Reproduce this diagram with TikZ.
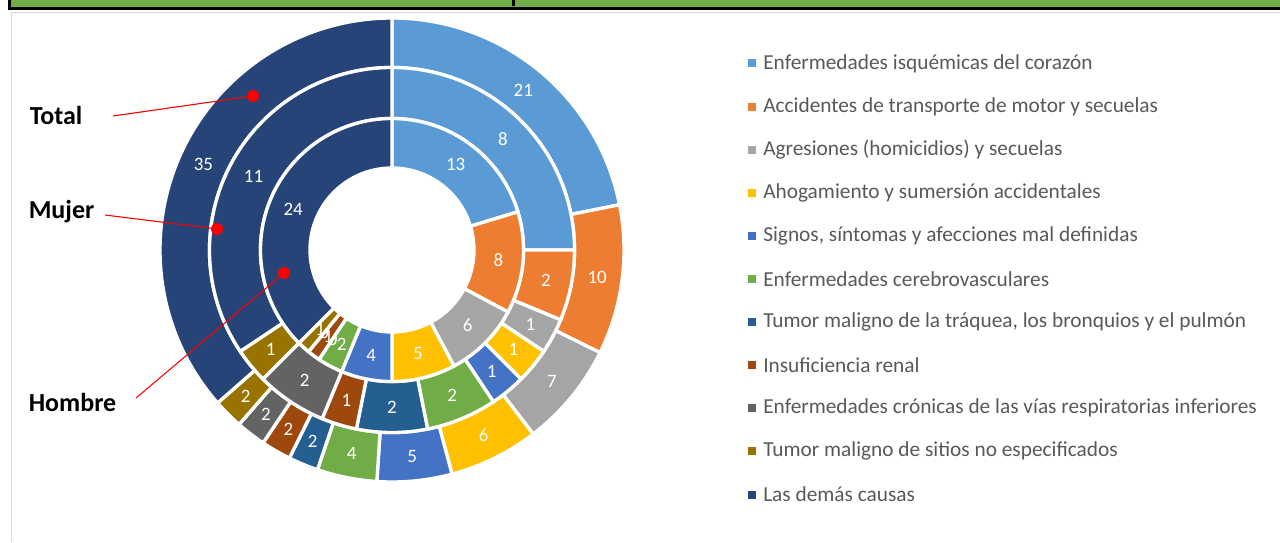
\documentclass[tikz,border=0pt]{standalone}
\usepackage{fontspec}
\setmainfont{Carlito}
\definecolor{c1}{HTML}{5B9BD5}
\definecolor{c2}{HTML}{ED7D31}
\definecolor{c3}{HTML}{A5A5A5}
\definecolor{c4}{HTML}{FFC000}
\definecolor{c5}{HTML}{4472C4}
\definecolor{c6}{HTML}{70AD47}
\definecolor{c7}{HTML}{255E91}
\definecolor{c8}{HTML}{9E480E}
\definecolor{c9}{HTML}{636363}
\definecolor{c10}{HTML}{997300}
\definecolor{c11}{HTML}{264478}
\definecolor{legtext}{HTML}{595959}
\definecolor{framegray}{HTML}{D9D9D9}
\definecolor{headgreen}{HTML}{70AD47}
\tikzset{
  slicelab/.style={text=white, font=\fontsize{14.2}{16}\selectfont, inner sep=0pt},
  legitem/.style={anchor=west, text=legtext, font=\fontsize{16}{18}\selectfont, inner sep=0pt},
  legmark/.style={minimum size=6pt, inner sep=0pt, draw=none},
  ringlab/.style={anchor=west, font=\bfseries\fontsize{19.5}{22}\selectfont, inner sep=0pt},
  reddot/.style={circle, fill=red, minimum size=9pt, inner sep=0pt},
  redline/.style={red, line width=0.8pt},
  slicebd/.style={draw=white, line width=2.5pt, line join=miter}
}
\begin{document}
\begin{tikzpicture}[x=0.75pt,y=0.75pt]
\useasboundingbox (0,0) rectangle (1280,-542);
\fill[white] (0,0) rectangle (1280,-542);
% header
\fill[black] (8,0) rectangle (1280,-10);
\fill[headgreen] (10.5,0) rectangle (1280,-7.5);
\fill[black] (512,0) rectangle (515,-6);
% frame
\draw[framegray, line width=1.2pt] (11.5,-542) -- (11.5,-12.5) -- (1280,-12.5);
\begin{scope}[shift={(392,-250)}]
% outer ring: total (96)
\foreach \a/\b/\c [count=\i] in {0/21/c1,21/31/c2,31/38/c3,38/44/c4,44/49/c5,49/53/c6,53/55/c7,55/57/c8,57/59/c9,59/61/c10,61/96/c11} {
  \pgfmathsetmacro\sa{90-\a*3.75}
  \pgfmathsetmacro\ea{90-\b*3.75}
  \pgfmathsetmacro\ma{(\sa+\ea)/2}
  \filldraw[fill=\c, slicebd] (\sa:232) arc[start angle=\sa, end angle=\ea, radius=232] -- (\ea:182.5) arc[start angle=\ea, end angle=\sa, radius=182.5] -- cycle;
  \node[slicelab] (o\i) at (\ma:207) {\the\numexpr\b-\a\relax};
}
% middle ring: mujer (32)
\foreach \a/\b/\c [count=\i] in {0/8/c1,8/10/c2,10/11/c3,11/12/c4,12/13/c5,13/15/c6,15/17/c7,17/18/c8,18/20/c9,20/21/c10,21/32/c11} {
  \pgfmathsetmacro\sa{90-\a*11.25}
  \pgfmathsetmacro\ea{90-\b*11.25}
  \pgfmathsetmacro\ma{(\sa+\ea)/2}
  \filldraw[fill=\c, slicebd] (\sa:182.5) arc[start angle=\sa, end angle=\ea, radius=182.5] -- (\ea:131.5) arc[start angle=\ea, end angle=\sa, radius=131.5] -- cycle;
  \node[slicelab] (m\i) at (\ma:157) {\the\numexpr\b-\a\relax};
}
% inner ring: hombre (64)
\foreach \a/\b/\c [count=\i] in {0/13/c1,13/21/c2,21/27/c3,27/32/c4,32/36/c5,36/38/c6,38/38/c7,38/39/c8,39/39/c9,39/40/c10,40/64/c11} {
  \pgfmathsetmacro\sa{90-\a*5.625}
  \pgfmathsetmacro\ea{90-\b*5.625}
  \pgfmathsetmacro\ma{(\sa+\ea)/2}
  \ifnum\a=\b\else
  \filldraw[fill=\c, slicebd] (\sa:131.5) arc[start angle=\sa, end angle=\ea, radius=131.5] -- (\ea:82) arc[start angle=\ea, end angle=\sa, radius=82] -- cycle;
  \fi
  \node[slicelab] (h\i) at (\ma:107) {\the\numexpr\b-\a\relax};
}
\end{scope}
% ring labels and pointers
\node[ringlab] (tot) at (29.5,-115) {Total};
\node[ringlab] (muj) at (28.5,-212) {Mujer};
\node[ringlab] (hom) at (28.5,-402) {Hombre};
\node[reddot] (dt) at (253,-96) {};
\node[reddot] (dm) at (217,-229) {};
\node[reddot] (dh) at (284,-273) {};
\coordinate (lt) at (113,-116);
\coordinate (lm) at (105,-215);
\coordinate (lh) at (136,-398);
\draw[redline] (lt) -- (dt.center);
\draw[redline] (lm) -- (dm.center);
\draw[redline] (lh) -- (dh.center);
% legend
\foreach \t/\c [count=\i] in {
  {Enfermedades isquémicas del corazón}/c1,
  {Accidentes de transporte de motor y secuelas}/c2,
  {Agresiones (homicidios) y secuelas}/c3,
  {Ahogamiento y sumersión accidentales}/c4,
  {Signos, síntomas y afecciones mal definidas}/c5,
  {Enfermedades cerebrovasculares}/c6,
  {Tumor maligno de la tráquea, los bronquios y el pulmón}/c7,
  {Insuficiencia renal}/c8,
  {Enfermedades crónicas de las vías respiratorias inferiores}/c9,
  {Tumor maligno de sitios no especificados}/c10,
  {Las demás causas}/c11} {
  \pgfmathsetmacro\yy{-63.5-(\i-1)*43.1}
  \node[legmark, fill=\c] (mk\i) at (752,\yy) {};
  \node[legitem] (lg\i) at (763,\yy) {\t};
}
\end{tikzpicture}
\end{document}
